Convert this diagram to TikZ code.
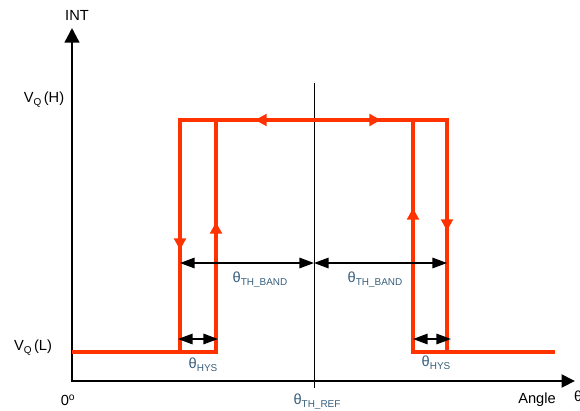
\documentclass[tikz,border=0pt]{standalone}
\usepackage{fontspec}
\setmainfont{Liberation Sans}
\usepackage{xcolor}
\usetikzlibrary{arrows.meta}
\definecolor{curvered}{RGB}{255,51,0}
\definecolor{labelblue}{RGB}{55,95,125}
\newcommand{\lowtxt}[1]{\raisebox{-0.4ex}{\fontsize{8.5}{9}\selectfont #1}}

\begin{document}
\begin{tikzpicture}[
  x=0.03cm, y=-0.03cm,
  font=\fontsize{12.5}{14}\selectfont,
  axis/.style={line width=2.1pt,line join=miter,
    {Triangle[length=12.5pt,width=12.5pt]}-{Triangle[length=11.5pt,width=11pt]}},
  curve/.style={line width=2.6pt,curvered,line join=miter},
  flowtip/.style={curve,-{Triangle[length=10pt,width=10pt]}},
  dimline/.style={line width=1.2pt,{Triangle[length=12.5pt,width=9pt]}-{Triangle[length=12.5pt,width=9pt]}},
  reflabel/.style={text=labelblue,inner sep=0pt},
  axlabel/.style={inner sep=0pt}
]
\useasboundingbox (0,0) rectangle (580,410);
% reference angle
\draw[line width=0.8pt] (314,83) coordinate (reftop) -- (314,388) coordinate (refbot);
% axes
\draw[axis] (72,28) coordinate (ytip) -- (72,381) coordinate (origin) -- (575,381) coordinate (xtip);
% output curve
\draw[curve] (72,352) -- (216,352) -- (216,120);
\draw[curve] (180,352) -- (180,120) -- (447,120) -- (447,352);
\draw[curve] (413,120) -- (413,352) -- (555,352);
% direction marks
\draw[flowtip] (180,236) -- (180,250);
\draw[flowtip] (216,236) -- (216,222);
\draw[flowtip] (413,222) -- (413,208);
\draw[flowtip] (447,217) -- (447,231);
\draw[flowtip] (272,120) -- (255,120);
\draw[flowtip] (364,120) -- (381,120);
% dimensions
\draw[dimline] (180,263) -- (314,263);
\draw[dimline] (314,263) -- (447,263);
\draw[dimline] (178,339) -- (218,339);
\draw[dimline] (413,339) -- (451,339);
% labels
\node[axlabel] (int) at (77,15) {INT};
\node[axlabel] (vqh) at (44,100) {V\lowtxt{Q}\,(H)};
\node[axlabel] (vql) at (33,348) {V\lowtxt{Q}\,(L)};
\node[axlabel] (zero) at (68,400) {0\textsuperscript{o}};
\node[axlabel] (angle) at (537,400) {Angle};
\node[axlabel,anchor=west] (theta) at (574,396) {θ};
\node[reflabel] (bandl) at (260,280) {θ\lowtxt{TH\_BAND}};
\node[reflabel] (bandr) at (375,280) {θ\lowtxt{TH\_BAND}};
\node[reflabel] (hysl) at (203,365) {θ\lowtxt{HYS}};
\node[reflabel] (hysr) at (436,363) {θ\lowtxt{HYS}};
\node[reflabel] (thref) at (317,402) {θ\lowtxt{TH\_REF}};
\end{tikzpicture}
\end{document}
